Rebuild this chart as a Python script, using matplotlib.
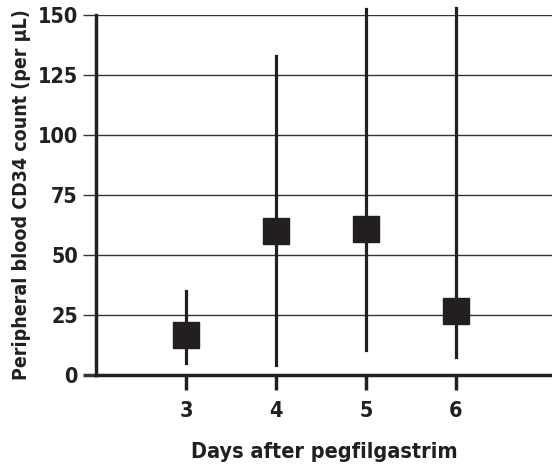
import matplotlib
matplotlib.use("Agg")
import matplotlib.pyplot as plt
import numpy as np

# days after pegfilgastrim, median CD34 count and range
days = [3, 4, 5, 6]
median = [16.5, 60, 61, 26.5]
low = [5, 4, 10.5, 7.5]
high = [35, 133, 152.5, 153]
yticks = [0, 25, 50, 75, 100, 125, 150]

plt.rcParams['font.family'] = ['DejaVu Sans']
plt.rcParams['font.stretch'] = 'condensed'
plt.rcParams['font.weight'] = 'bold'

fig = plt.figure(figsize=(5.52, 4.68), dpi=100)
ax = fig.add_axes([96/552, 93/468, 456/552, 360/468])

# grid lines
ax.set_yticks(yticks)
ax.grid(axis='y', color='#333333', linewidth=1.0)
ax.set_axisbelow(True)

# range lines and median squares
for d, m, lo, hi in zip(days, median, low, high):
    ax.plot([d, d], [lo, hi], color='#231f20', linewidth=2.3, clip_on=False, zorder=3)
ax.plot(days, median, linestyle='none', marker='s', markersize=18.5,
        color='#231f20', zorder=4, clip_on=False)

ax.set_xlim(2.0, 7.07)
ax.set_ylim(0, 150)
ax.set_xticks(days)
ax.set_xticklabels([str(d) for d in days])

for s in ['top', 'right']:
    ax.spines[s].set_visible(False)
ax.spines['left'].set_linewidth(2.5)
ax.spines['bottom'].set_linewidth(2.5)
ax.spines['left'].set_color('#231f20')
ax.spines['bottom'].set_color('#231f20')

ax.tick_params(axis='y', direction='out', length=9.5, width=1.0, color='#333333',
               pad=3.5, labelsize=15.5, labelcolor='#231f20')
ax.tick_params(axis='x', direction='out', length=10.5, width=2.5, color='#231f20',
               pad=8, labelsize=15.5, labelcolor='#231f20')
# make the zero tick as heavy as the axis line
ax.yaxis.get_major_ticks()[0].tick1line.set_markeredgewidth(2.5)
ax.yaxis.get_major_ticks()[0].tick1line.set_color('#231f20')

ax.set_xlabel('Days after pegfilgastrim', fontsize=15.5, fontweight='bold',
              color='#231f20', labelpad=15)
ax.set_ylabel('Peripheral blood CD34 count (per μL)', fontsize=14,
              fontweight='bold', color='#231f20')
ax.yaxis.set_label_coords(-0.142, 0.5)

fig.savefig('out.png', dpi=100)
